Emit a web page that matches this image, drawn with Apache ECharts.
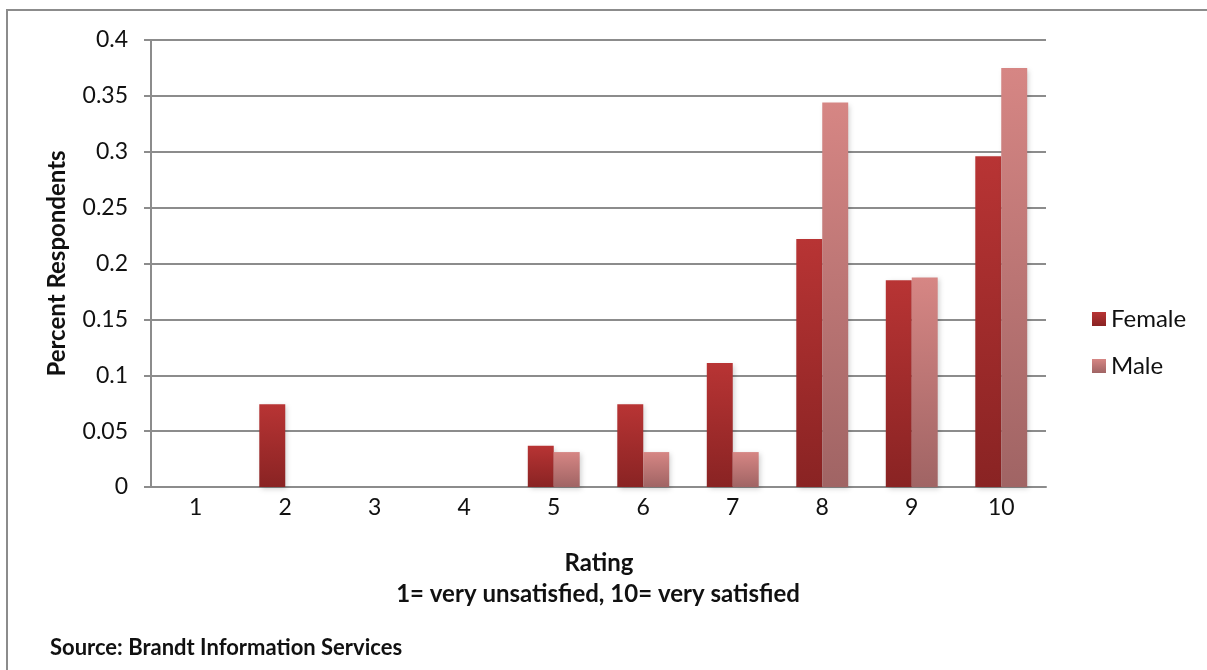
<!DOCTYPE html>
<html>
<head>
<meta charset="utf-8">
<script src="https://cdn.jsdelivr.net/npm/echarts@6/dist/echarts.min.js"></script>
<style>
  html, body { margin: 0; padding: 0; background: #fff; }
  #chart { width: 1207px; height: 670px; }
</style>
</head>
<body>
<div id="chart"></div>
<script>
// Satisfaction ratings by gender
const ratings = ['1', '2', '3', '4', '5', '6', '7', '8', '9', '10'];
const female = [0, 0.074, 0, 0, 0.037, 0.074, 0.111, 0.222, 0.185, 0.296];
const male = [0, 0, 0, 0, 0.03125, 0.03125, 0.03125, 0.344, 0.1875, 0.375];
const yTicks = ['0', '0.05', '0.1', '0.15', '0.2', '0.25', '0.3', '0.35', '0.4'];

const FONT = 'Lato, "Open Sans", sans-serif';

function grad(top, bottom) {
  return new echarts.graphic.LinearGradient(0, 0, 0, 1, [
    { offset: 0, color: top },
    { offset: 1, color: bottom }
  ]);
}

const chart = echarts.init(document.getElementById('chart'));
chart.setOption({
  backgroundColor: '#ffffff',
  animation: false,
  grid: { left: 151, right: 161, top: 40, bottom: 183 },
  legend: {
    orient: 'vertical',
    left: 1087,
    top: 302,
    icon: 'rect',
    itemWidth: 14,
    itemHeight: 14,
    itemGap: 23,
    textStyle: { fontFamily: FONT, fontSize: 24, color: '#111' },
    data: ['Female', 'Male']
  },
  xAxis: {
    type: 'category',
    data: ratings,
    axisLine: { lineStyle: { color: '#8c8c8c', width: 2 } },
    axisTick: { show: false },
    axisLabel: { fontFamily: FONT, fontSize: 23, color: '#111', margin: 9 }
  },
  yAxis: {
    type: 'value',
    min: 0,
    max: 0.4,
    interval: 0.05,
    name: 'Percent Respondents',
    nameLocation: 'middle',
    nameGap: 82,
    nameTextStyle: { fontFamily: FONT, fontSize: 24, fontWeight: 'bold', color: '#111' },
    axisLine: { show: true, lineStyle: { color: '#8c8c8c', width: 2 } },
    axisTick: { show: true, length: 7, lineStyle: { color: '#8c8c8c', width: 2 } },
    axisLabel: {
      fontFamily: FONT, fontSize: 23, color: '#111', margin: 23,
      formatter: (v) => yTicks[Math.round(v / 0.05)]
    },
    splitLine: { lineStyle: { color: '#8c8c8c', width: 2 } }
  },
  series: [
    {
      name: 'Female',
      type: 'bar',
      data: female,
      barGap: '0%',
      barCategoryGap: '42%',
      itemStyle: {
        color: grad('#b83434', '#892323'),
        shadowBlur: 5, shadowOffsetX: 2, shadowOffsetY: 2, shadowColor: 'rgba(0,0,0,0.18)'
      }
    },
    {
      name: 'Male',
      type: 'bar',
      data: male,
      itemStyle: {
        color: grad('#d68684', '#a06464'),
        shadowBlur: 5, shadowOffsetX: 2, shadowOffsetY: 2, shadowColor: 'rgba(0,0,0,0.18)'
      }
    }
  ],
  graphic: [
    {
      type: 'rect',
      shape: { x: 7, y: 10, width: 1300, height: 800 },
      style: { fill: 'none', stroke: '#8c8c8c', lineWidth: 2 },
      silent: true
    },
    {
      type: 'text',
      x: 599, y: 563,
      style: { text: 'Rating', font: 'bold 24px ' + FONT, fill: '#111', align: 'center', verticalAlign: 'middle' }
    },
    {
      type: 'text',
      x: 598, y: 594,
      style: { text: '1= very unsatisfied, 10= very satisfied', font: 'bold 24px ' + FONT, fill: '#111', align: 'center', verticalAlign: 'middle' }
    },
    {
      type: 'text',
      x: 50, y: 648,
      style: { text: 'Source: Brandt Information Services', font: 'bold 22px ' + FONT, fill: '#111', align: 'left', verticalAlign: 'middle' }
    }
  ]
});
</script>
</body>
</html>
